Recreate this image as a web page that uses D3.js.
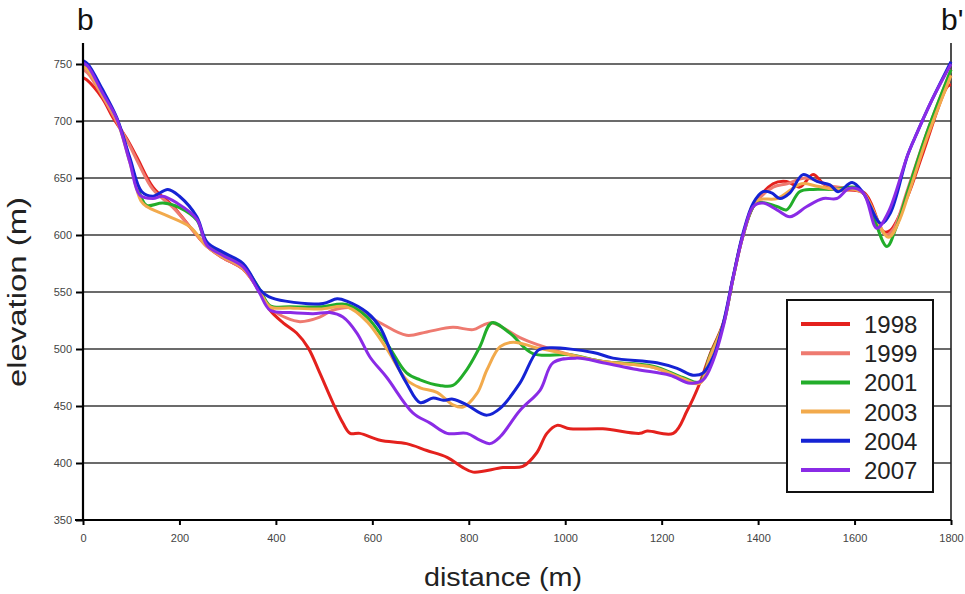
<!DOCTYPE html>
<html>
<head>
<meta charset="utf-8">
<script src="https://cdn.jsdelivr.net/npm/d3@7"></script>
<style>
  body { margin: 0; background: #fff; }
  svg { display: block; font-family: "Liberation Sans", Arial, sans-serif; }
</style>
</head>
<body>
<svg id="chart" width="965" height="594"></svg>
<script>
// profile b - b', elevation (m) against distance (m)
var years = ["1998", "1999", "2001", "2003", "2004", "2007"];
var colors = ["#e4211d", "#ee7a70", "#22ad2a", "#f2aa4c", "#1523d4", "#8a2be6"];
var xTicks = [0, 200, 400, 600, 800, 1000, 1200, 1400, 1600, 1800];
var yTicks = [350, 400, 450, 500, 550, 600, 650, 700, 750];

var p1998 = [[0,738],[8,736],[40,720],[62,703],[90,685],[112,668],[145,642],[187,625],[228,604],[257,590],[290,580],[332,570],[367,550],[388,534],[415,523],[443,514],[467,501],[491,479],[518,453],[539,435],[554,426],[574,426],[616,420],[671,417],[713,411],[755,405],[788,396],[809,392],[871,396],[912,397],[941,409],[962,426],[983,433],[1010,430],[1078,430],[1155,426],[1170,428],[1224,426],[1253,446],[1279,470],[1300,495],[1328,523],[1348,562],[1369,600],[1390,625],[1431,645],[1459,647],[1486,642],[1514,653],[1535,645],[1560,640],[1620,637],[1660,603],[1674,604],[1709,633],[1742,672],[1792,730],[1800,732]];
var p1999 = [[0,745],[10,742],[40,722],[65,703],[95,680],[115,663],[145,640],[187,624],[228,604],[257,590],[290,580],[332,570],[367,550],[388,536],[423,527],[450,524],[491,528],[518,534],[560,536],[616,523],[671,512],[713,515],[767,519],[809,517],[830,521],[848,523],[906,510],[941,504],[1010,495],[1078,489],[1182,484],[1244,473],[1279,470],[1300,492],[1328,522],[1348,562],[1369,600],[1390,625],[1431,642],[1460,645],[1500,650],[1550,643],[1600,640],[1620,636],[1665,600],[1680,605],[1710,640],[1750,690],[1800,745]];
var p2001 = [[0,750],[10,747],[40,725],[70,702],[97,666],[120,634],[132,626],[166,628],[200,624],[236,613],[257,592],[290,583],[332,573],[367,552],[388,538],[430,537],[491,537],[547,539],[589,528],[630,505],[671,479],[699,473],[740,468],[767,468],[796,482],[823,502],[848,523],[885,514],[933,496],[1010,495],[1078,489],[1182,485],[1244,475],[1279,471],[1300,494],[1328,522],[1348,562],[1369,600],[1397,628],[1439,625],[1459,622],[1486,638],[1514,640],[1560,640],[1600,642],[1620,636],[1667,590],[1685,605],[1710,638],[1750,690],[1800,745]];
var p2003 = [[0,748],[10,745],[40,723],[70,701],[97,664],[120,630],[132,625],[174,617],[222,607],[257,590],[290,581],[332,571],[367,550],[388,537],[430,536],[491,535],[547,537],[589,524],[630,500],[671,473],[699,466],[734,462],[767,451],[788,449],[817,461],[838,482],[865,502],[892,506],[941,501],[1010,495],[1078,489],[1182,484],[1244,474],[1279,470],[1300,493],[1328,522],[1348,562],[1369,600],[1397,630],[1440,632],[1490,645],[1520,643],[1560,640],[1600,640],[1620,636],[1670,598],[1690,610],[1715,640],[1750,685],[1800,740]];
var p2004 = [[0,753],[10,750],[40,728],[70,703],[97,668],[122,638],[145,634],[176,640],[200,634],[236,616],[257,594],[290,585],[332,575],[367,552],[385,546],[420,542],[498,540],[527,544],[547,542],[589,532],[616,519],[643,493],[671,470],[699,453],[726,457],[747,455],[767,456],[796,451],[823,444],[838,442],[865,448],[906,470],[944,499],[968,501],[1058,497],[1099,492],[1190,488],[1232,483],[1265,477],[1286,479],[1307,493],[1328,523],[1348,563],[1369,602],[1390,628],[1410,638],[1428,637],[1445,632],[1466,637],[1493,653],[1522,647],[1549,644],[1566,638],[1595,646],[1618,637],[1655,610],[1674,619],[1710,670],[1730,690],[1760,718],[1800,752]];
var p2007 = [[0,751],[10,748],[40,725],[70,702],[97,664],[118,635],[145,632],[165,634],[195,628],[236,614],[257,591],[290,582],[332,572],[365,550],[388,534],[430,532],[477,531],[512,532],[539,528],[568,514],[595,493],[630,475],[684,444],[720,435],[755,426],[796,426],[823,420],[844,417],[865,423],[906,446],[948,464],[975,488],[1024,492],[1078,488],[1149,482],[1217,477],[1259,470],[1286,473],[1307,490],[1328,520],[1348,562],[1369,600],[1390,625],[1410,628],[1439,622],[1466,616],[1501,625],[1535,632],[1563,632],[1590,641],[1618,637],[1646,606],[1670,620],[1710,670],[1730,690],[1760,718],[1800,750]];

var profiles = [p1998, p1999, p2001, p2003, p2004, p2007];

function render() {
    var svg = d3.select("#chart");
    var left = 83, right = 951, top = 64, bottom = 520;

    var xs = d3.scaleLinear().domain([0, 1800]).range([left, right]);
    var ys = d3.scaleLinear().domain([350, 750]).range([bottom, top]);

    // grid lines
    svg.append("g")
        .selectAll("line")
        .data(yTicks.filter(function(d) { return d > 350; }))
        .enter()
        .append("line")
            .attr("x1", left)
            .attr("x2", right)
            .attr("y1", function(d) { return ys(d); })
            .attr("y2", function(d) { return ys(d); })
            .attr("stroke", "#3a3a3a")
            .attr("stroke-width", 1.3);

    // right frame line
    svg.append("line")
        .attr("x1", right).attr("x2", right)
        .attr("y1", 43).attr("y2", bottom)
        .attr("stroke", "#222").attr("stroke-width", 1.6);

    var line = d3.line()
        .x(function(d) { return xs(d[0]); })
        .y(function(d) { return ys(d[1]); })
        .curve(d3.curveCatmullRom.alpha(0.5));

    svg.append("g")
        .selectAll("path")
        .data(profiles)
        .enter()
        .append("path")
            .attr("d", line)
            .attr("fill", "none")
            .attr("stroke", function(d, i) { return colors[i]; })
            .attr("stroke-width", 3)
            .attr("stroke-linejoin", "round");

    var yAxis = d3.axisLeft(ys).tickValues(yTicks).tickSize(7).tickPadding(4);
    var gy = svg.append("g")
        .attr("transform", "translate(" + left + ",0)")
        .call(yAxis);
    gy.select(".domain").remove();
    gy.append("line")
        .attr("x1", 0).attr("x2", 0)
        .attr("y1", 43).attr("y2", bottom + 1)
        .attr("stroke", "#000").attr("stroke-width", 2.2);

    var xAxis = d3.axisBottom(xs).tickValues(xTicks)
        .tickFormat(d3.format("d"))
        .tickSize(5).tickPadding(9);
    var gx = svg.append("g")
        .attr("transform", "translate(0," + bottom + ")")
        .call(xAxis);
    gx.select(".domain").remove();
    gx.append("line")
        .attr("x1", left - 8).attr("x2", right)
        .attr("y1", 0).attr("y2", 0)
        .attr("stroke", "#000").attr("stroke-width", 2.2);

    svg.selectAll(".tick line").attr("stroke", "#000").attr("stroke-width", 2);
    svg.selectAll(".tick text")
        .attr("fill", "#444")
        .style("font-size", "11px")
        .style("font-family", "'Liberation Sans Narrow', 'Liberation Sans', Arial, sans-serif");

    // axis titles
    svg.append("text")
        .attr("x", 503)
        .attr("y", 586)
        .attr("text-anchor", "middle")
        .attr("textLength", 158)
        .attr("lengthAdjust", "spacingAndGlyphs")
        .style("font-size", "25px")
        .attr("fill", "#222")
        .text("distance (m)");

    svg.append("text")
        .attr("transform", "translate(26,292) rotate(-90)")
        .attr("text-anchor", "middle")
        .attr("textLength", 190)
        .attr("lengthAdjust", "spacingAndGlyphs")
        .style("font-size", "26px")
        .attr("fill", "#222")
        .text("elevation (m)");

    // section end labels
    svg.append("text").attr("x", 77).attr("y", 30)
        .style("font-size", "30px").attr("fill", "#111").text("b");
    svg.append("text").attr("x", 941).attr("y", 30)
        .style("font-size", "30px").attr("fill", "#111").text("b'");

    // legend
    var legend = svg.append("g");
    legend.append("rect")
        .attr("x", 787).attr("y", 300)
        .attr("width", 146).attr("height", 192)
        .attr("fill", "#fff")
        .attr("stroke", "#111").attr("stroke-width", 2);

    var rows = legend.selectAll("g.row")
        .data(years)
        .enter()
        .append("g")
            .attr("class", "row")
            .attr("transform", function(d, i) { return "translate(0," + (324 + i * 29.2) + ")"; });
    rows.append("line")
        .attr("x1", 801).attr("x2", 850)
        .attr("stroke", function(d, i) { return colors[i]; })
        .attr("stroke-width", 4);
    rows.append("text")
        .attr("x", 864).attr("y", 9)
        .style("font-size", "24px")
        .attr("fill", "#222")
        .text(function(d) { return d; });
}

render();
</script>
</body>
</html>
